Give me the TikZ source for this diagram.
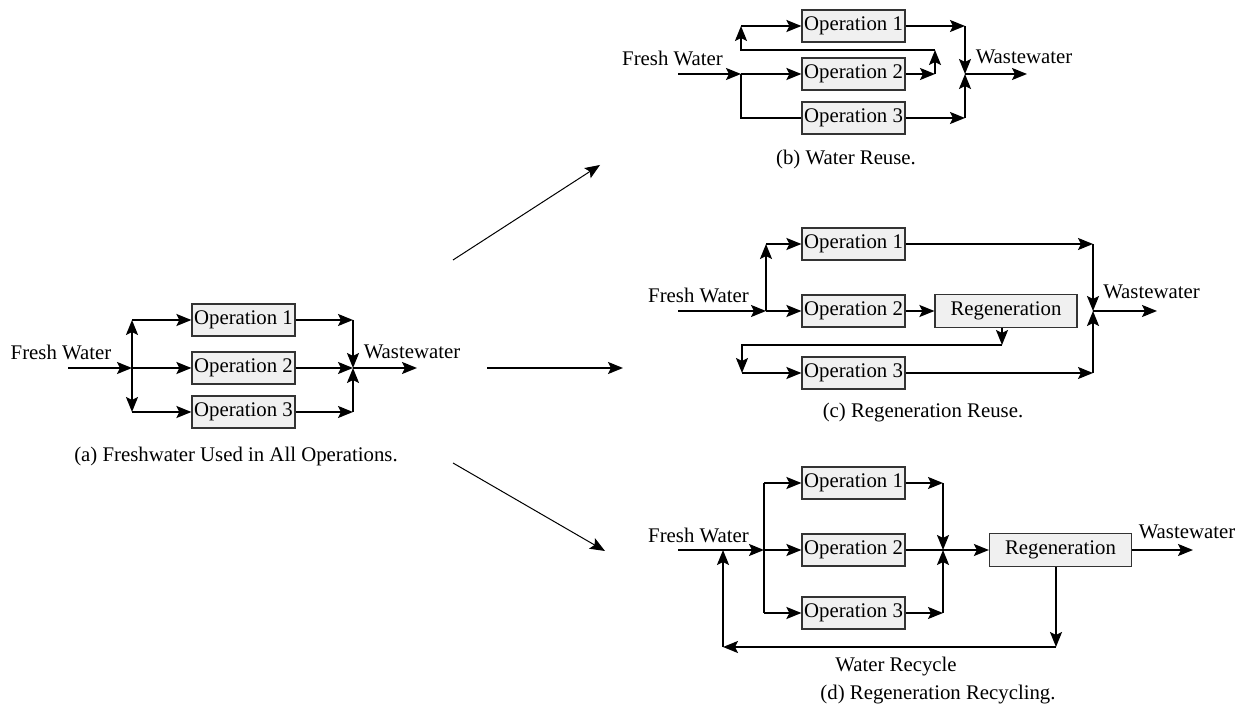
\documentclass[tikz,border=0pt]{standalone}
\usepackage{fontspec}
\setmainfont{Liberation Serif}
\usetikzlibrary{arrows.meta, positioning}

\begin{document}
\begin{tikzpicture}[
        x=0.5pt, y=-0.5pt,
        >={Stealth[length=7.5pt, width=6pt, inset=1.5pt]}, % Sets arrow style
        opbox/.style={draw=black!80, line width=0.6pt, fill=black!6, rectangle, minimum width=51.5pt, minimum height=16pt, inner sep=0pt, font=\fontsize{10.4pt}{12pt}\selectfont},
        regen/.style={opbox, minimum width=71pt, minimum height=16.5pt},
        txt/.style={inner sep=0pt, font=\fontsize{10.4pt}{12pt}\selectfont},
        flow/.style={line width=1pt, ->},
        pipe/.style={line width=1pt},
        link/.style={line width=0.5pt, ->}
    ]
    \useasboundingbox (0,0) rectangle (1246,710);

    % --- (a) Freshwater used in all operations ---
    \node[txt] (aFresh) at (61,352) {Fresh Water};
    \node[opbox] (aOp1) at (243.5,320) {Operation 1};
    \node[opbox] (aOp2) at (243.5,368) {Operation 2};
    \node[opbox] (aOp3) at (243.5,412) {Operation 3};
    \node[txt] (aWaste) at (412,352) {Wastewater};
    \node[txt] (aCap) at (236,456) {(a) Freshwater Used in All Operations.};
    \coordinate (aIn) at (68,368);
    \coordinate (aSplit) at (132,368);
    \coordinate (aSplitT) at (132,320);
    \coordinate (aSplitB) at (132,412);
    \coordinate (aJoinT) at (353,320);
    \coordinate (aJoin) at (353,368);
    \coordinate (aJoinB) at (353,412);
    \coordinate (aOut) at (417,368);

    \draw[flow] (aIn) -- (aSplit);
    \draw[flow, <->] (aSplitT) -- (aSplitB);
    \draw[flow] (aSplitT) -- (aOp1);
    \draw[flow] (aSplit) -- (aOp2);
    \draw[flow] (aSplitB) -- (aOp3);
    \draw[flow] (aOp1) -- (aJoinT);
    \draw[flow] (aOp2) -- (aJoin);
    \draw[flow] (aOp3) -- (aJoinB);
    \draw[flow] (aJoinT) -- (aJoin);
    \draw[flow] (aJoinB) -- (aJoin);
    \draw[flow] (aJoin) -- (aOut);

    % --- Links between panels ---
    \coordinate (lB0) at (453,260);
    \coordinate (lB1) at (600,165);
    \coordinate (lC0) at (487,368);
    \coordinate (lC1) at (623,368);
    \coordinate (lD0) at (453,463);
    \coordinate (lD1) at (605,551);
    \draw[link] (lB0) -- (lB1);
    \draw[flow] (lC0) -- (lC1);
    \draw[link] (lD0) -- (lD1);

    % --- (b) Water reuse ---
    \node[txt] (bFresh) at (672.5,58) {Fresh Water};
    \node[opbox] (bOp1) at (853.5,26) {Operation 1};
    \node[opbox] (bOp2) at (853.5,74) {Operation 2};
    \node[opbox] (bOp3) at (853.5,118) {Operation 3};
    \node[txt] (bWaste) at (1024,57) {Wastewater};
    \node[txt] (bCap) at (846,160) {(b) Water Reuse.};
    \coordinate (bIn) at (678,74);
    \coordinate (bSplit) at (741,74);
    \coordinate (bLoopT) at (741,26);
    \coordinate (bRet) at (935,74);
    \coordinate (bRetT) at (935,50);
    \coordinate (bJoinT) at (965,26);
    \coordinate (bJoin) at (965,74);
    \coordinate (bJoinB) at (965,118);
    \coordinate (bOut) at (1027,74);

    \draw[flow] (bIn) -- (bSplit);
    \draw[flow] (bSplit) -- (bOp2);
    \draw[pipe] (bSplit) |- (bOp3);
    \draw[flow] (bOp2) -- (bRet);
    \draw[flow] (bRet) -- (bRetT);
    \draw[flow] (bRetT) -| (bLoopT);
    \draw[flow] (bLoopT) -- (bOp1);
    \draw[flow] (bOp1) -- (bJoinT);
    \draw[flow] (bOp3) -- (bJoinB);
    \draw[flow] (bJoinT) -- (bJoin);
    \draw[flow] (bJoinB) -- (bJoin);
    \draw[flow] (bJoin) -- (bOut);

    % --- (c) Regeneration reuse ---
    \node[txt] (cFresh) at (698.5,295) {Fresh Water};
    \node[opbox] (cOp1) at (853.5,244) {Operation 1};
    \node[opbox] (cOp2) at (853.5,311) {Operation 2};
    \node[opbox] (cOp3) at (853.5,373) {Operation 3};
    \node[regen] (cRegen) at (1006,311) {Regeneration};
    \node[txt] (cWaste) at (1151.5,292) {Wastewater};
    \node[txt] (cCap) at (923,413) {(c) Regeneration Reuse.};
    \coordinate (cIn) at (678,311);
    \coordinate (cSplit) at (766,311);
    \coordinate (cSplitT) at (766,244);
    \coordinate (cDrop) at (1002,345);
    \coordinate (cOp3In) at (742,373);
    \coordinate (cJoinT) at (1093,244);
    \coordinate (cJoin) at (1093,311);
    \coordinate (cJoinB) at (1093,373);
    \coordinate (cOut) at (1157,311);

    \draw[flow] (cIn) -- (cSplit);
    \draw[flow] (cSplit) -- (cSplitT);
    \draw[flow] (cSplitT) -- (cOp1);
    \draw[flow] (cSplit) -- (cOp2);
    \draw[flow] (cOp2) -- (cRegen);
    \draw[flow] (cRegen.south -| cDrop) -- (cDrop);
    \draw[flow] (cDrop) -| (cOp3In);
    \draw[flow] (cOp3In) -- (cOp3);
    \draw[flow] (cOp1) -- (cJoinT);
    \draw[flow] (cOp3) -- (cJoinB);
    \draw[flow] (cJoinT) -- (cJoin);
    \draw[flow] (cJoinB) -- (cJoin);
    \draw[flow] (cJoin) -- (cOut);

    % --- (d) Regeneration recycling ---
    \node[txt] (dFresh) at (698.5,535) {Fresh Water};
    \node[opbox] (dOp1) at (853.5,483) {Operation 1};
    \node[opbox] (dOp2) at (853.5,550) {Operation 2};
    \node[opbox] (dOp3) at (853.5,613) {Operation 3};
    \node[regen] (dRegen) at (1060.5,550) {Regeneration};
    \node[txt] (dWaste) at (1187,532) {Wastewater};
    \node[txt] (dRecycle) at (896,667) {Water Recycle};
    \node[txt] (dCap) at (938,695) {(d) Regeneration Recycling.};
    \coordinate (dIn) at (678,550);
    \coordinate (dMix) at (723,550);
    \coordinate (dSplit) at (764,550);
    \coordinate (dSplitT) at (764,483);
    \coordinate (dSplitB) at (764,613);
    \coordinate (dJoinT) at (943,483);
    \coordinate (dJoin) at (943,550);
    \coordinate (dJoinB) at (943,613);
    \coordinate (dOut) at (1193,550);
    \coordinate (dDrop) at (1056,647);
    \coordinate (dBack) at (723,647);

    \draw[flow] (dIn) -- (dSplit);
    \draw[pipe] (dSplitT) -- (dSplitB);
    \draw[flow] (dSplitT) -- (dOp1);
    \draw[flow] (dSplit) -- (dOp2);
    \draw[flow] (dSplitB) -- (dOp3);
    \draw[flow] (dOp1) -- (dJoinT);
    \draw[flow] (dOp3) -- (dJoinB);
    \draw[flow] (dJoinT) -- (dJoin);
    \draw[flow] (dJoinB) -- (dJoin);
    \draw[flow] (dOp2) -- (dRegen);
    \draw[flow] (dRegen) -- (dOut);
    \draw[flow] (dRegen.south -| dDrop) -- (dDrop);
    \draw[flow] (dDrop) -- (dBack);
    \draw[flow] (dBack) -- (dMix);

\end{tikzpicture}
\end{document}
